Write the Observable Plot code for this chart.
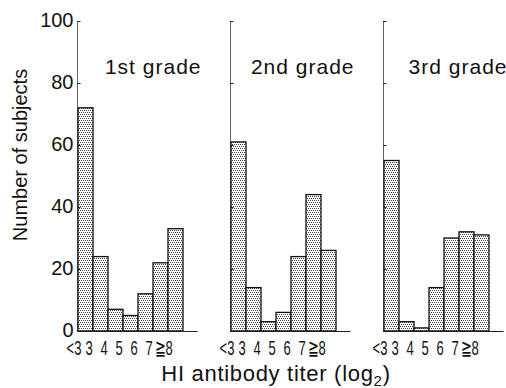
<!DOCTYPE html>
<html>
<head>
<meta charset="utf-8">
<script src="https://cdn.jsdelivr.net/npm/d3@7"></script>
<script src="https://cdn.jsdelivr.net/npm/@observablehq/plot@0.6"></script>
<style>
  html, body { margin: 0; padding: 0; background: #fff; }
  svg text { fill: #111; }
</style>
</head>
<body>
<div id="chart"></div>
<script>
const grades = ["1st grade", "2nd grade", "3rd grade"];
const titers = ["<3", "3", "4", "5", "6", "7", "≧8"];
const grade1 = [72, 24, 7, 5, 12, 22, 33];
const grade2 = [61, 14, 3, 6, 24, 44, 26];
const grade3 = [55, 3, 1, 14, 30, 32, 31];
const yTicks = [0, 20, 40, 60, 80, 100];
const yLabel = "Number of subjects";
const xLabel = "HI antibody titer (log";
const xLabelSub = "2";

const series = [grade1, grade2, grade3];
const data = grades.flatMap((g, i) => titers.map((t, j) => ({grade: g, titer: t, n: series[i][j]})));
const xLabels = grades.flatMap(g => titers.map(t => ({grade: g, titer: t})));
const yLabels = yTicks.map(v => ({grade: grades[0], v}));

const left = 76, panelW = 153.5, barsW = 107;
const sans = "'Liberation Sans', Arial, sans-serif";

const chart = Plot.plot({
  width: 506,
  height: 388,
  marginLeft: left,
  marginRight: 0,
  marginTop: 21,
  marginBottom: 57,
  style: {background: "#fff", fontFamily: sans, overflow: "visible"},
  fx: {domain: grades, range: [left, left + 3 * panelW], padding: 0, axis: null},
  x: {domain: titers, range: [left, left + barsW], padding: 0, axis: null},
  y: {domain: [0, 100], axis: null},
  marks: [
    Plot.barY(data, {fx: "grade", x: "titer", y: "n", fill: "url(#dots)", stroke: "#111", strokeWidth: 1.3}),
    Plot.ruleY([0], {stroke: "#222", strokeWidth: 1, insetRight: panelW - 121}),
    Plot.ruleY(yTicks.slice(1), {stroke: "#222", strokeWidth: 1, insetRight: panelW - 4}),
    Plot.rect([0], {y1: 0, y2: 100, fill: "#222", insetRight: panelW - 1.2}),
    Plot.text(yLabels, {fx: "grade", y: "v", text: d => String(d.v), frameAnchor: "left", dx: -4, dy: -1, textAnchor: "end", fontSize: 20, fontFamily: sans, fill: "#111"}),
    Plot.text(xLabels, {fx: "grade", x: "titer", text: "titer", frameAnchor: "bottom", dy: 17, dx: -12, textAnchor: "middle", lineAnchor: "middle", fontSize: 21, fontFamily: sans, fill: "#111"}),
    Plot.text(grades, {fx: d => d, text: d => d, frameAnchor: "top-left", dx: 124, dy: 46, textAnchor: "end", lineAnchor: "middle", fontSize: 21, fontFamily: sans, fill: "#111"})
  ]
});

const svg = d3.select(chart);
const defs = svg.insert("defs", ":first-child");
const pat = defs.append("pattern").attr("id", "dots").attr("width", 4).attr("height", 4).attr("patternUnits", "userSpaceOnUse");
pat.append("rect").attr("width", 4).attr("height", 4).attr("fill", "#fff");
[[0, 0], [2, 0], [1, 2], [3, 2]].forEach(([px, py]) => pat.append("rect").attr("x", px).attr("y", py).attr("width", 1).attr("height", 1).attr("fill", "#444"));

// condense the titer tick labels horizontally (the reference uses a condensed face)
const titerSet = new Set(titers);
const gradeSet = new Set(grades);
svg.selectAll("text").each(function() {
  const el = d3.select(this);
  if (gradeSet.has(this.textContent)) { el.attr("letter-spacing", 1); return; }
  if (!titerSet.has(this.textContent)) return;
  let t = el.attr("transform") || "";
  const xa = el.attr("x");
  if (xa != null && isFinite(+xa) && +xa !== 0) {
    t += ` translate(${+xa},0)`;
    el.attr("x", null);
  }
  el.attr("transform", `${t} scale(0.62,1)`);
});

svg.append("text")
  .attr("transform", "translate(27,155) rotate(-90)")
  .attr("text-anchor", "middle")
  .attr("font-family", sans)
  .attr("font-size", 20)
  .attr("fill", "#111")
  .text(yLabel);

const xt = svg.append("text")
  .attr("x", 276).attr("y", 381)
  .attr("text-anchor", "middle")
  .attr("font-family", sans)
  .attr("font-size", 22)
  .attr("letter-spacing", 0.7)
  .attr("fill", "#111");
xt.append("tspan").text(xLabel);
xt.append("tspan").attr("font-size", 15).attr("dy", 5).text(xLabelSub);
xt.append("tspan").attr("dy", -5).text(")");

document.getElementById("chart").appendChild(chart);
</script>
</body>
</html>
